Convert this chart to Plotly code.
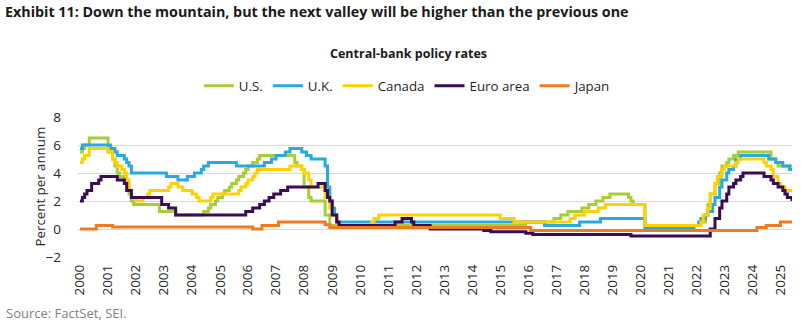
import plotly.graph_objects as go

END_DATE = "2025-06-01"

us_dates = ["2000-01","2000-02","2000-03","2000-05","2001-01","2001-03","2001-04","2001-05","2001-06","2001-08","2001-09","2001-10","2001-11","2001-12","2002-11","2003-06","2004-06","2004-08","2004-09","2004-11","2004-12","2005-02","2005-03","2005-05","2005-06","2005-08","2005-09","2005-11","2005-12","2006-01","2006-03","2006-05","2006-06","2007-09","2007-10","2007-12","2008-01","2008-03","2008-04","2008-10","2008-12","2015-12","2016-12","2017-03","2017-06","2017-12","2018-03","2018-06","2018-09","2018-12","2019-08","2019-09","2019-10","2020-03","2022-03","2022-05","2022-06","2022-07","2022-09","2022-11","2022-12","2023-02","2023-03","2023-05","2023-07","2024-09","2024-11","2024-12"]
us_values = [5.5,5.75,6.0,6.5,5.5,5.0,4.5,4.0,3.75,3.5,3.0,2.5,2.0,1.75,1.25,1.0,1.25,1.5,1.75,2.0,2.25,2.5,2.75,3.0,3.25,3.5,3.75,4.0,4.25,4.5,4.75,5.0,5.25,4.75,4.5,4.25,3.0,2.25,2.0,1.0,0.25,0.5,0.75,1.0,1.25,1.5,1.75,2.0,2.25,2.5,2.25,2.0,1.75,0.25,0.5,1.0,1.75,2.5,3.25,4.0,4.5,4.75,5.0,5.25,5.5,5.0,4.75,4.5]

uk_dates = ["2000-01","2000-02","2001-02","2001-04","2001-05","2001-08","2001-09","2001-10","2001-11","2003-02","2003-07","2003-11","2004-02","2004-05","2004-06","2004-08","2005-08","2006-08","2006-11","2007-01","2007-05","2007-07","2007-12","2008-02","2008-04","2008-10","2008-11","2008-12","2009-01","2009-02","2009-03","2016-08","2017-11","2018-08","2020-03","2021-12","2022-02","2022-03","2022-05","2022-06","2022-08","2022-09","2022-11","2022-12","2023-02","2023-03","2023-05","2023-06","2023-08","2024-08","2024-11","2025-02","2025-05"]
uk_values = [5.75,6.0,5.75,5.5,5.25,5.0,4.75,4.5,4.0,3.75,3.5,3.75,4.0,4.25,4.5,4.75,4.5,4.75,5.0,5.25,5.5,5.75,5.5,5.25,5.0,4.5,3.0,2.0,1.5,1.0,0.5,0.25,0.5,0.75,0.1,0.25,0.5,0.75,1.0,1.25,1.75,2.25,3.0,3.5,4.0,4.25,4.5,5.0,5.25,5.0,4.75,4.5,4.25]

ca_dates = ["2000-01","2000-02","2000-03","2000-05","2001-01","2001-03","2001-04","2001-05","2001-07","2001-08","2001-09","2001-10","2001-11","2002-01","2002-04","2002-06","2002-07","2003-03","2003-04","2003-07","2003-09","2004-01","2004-03","2004-04","2004-09","2004-10","2005-09","2005-10","2005-12","2006-01","2006-03","2006-04","2006-05","2007-07","2007-12","2008-01","2008-03","2008-04","2008-10","2008-12","2009-01","2009-03","2009-04","2010-06","2010-07","2010-09","2015-01","2015-07","2017-07","2017-09","2018-01","2018-07","2018-10","2020-03","2022-03","2022-04","2022-06","2022-07","2022-09","2022-10","2022-12","2023-01","2023-06","2023-07","2024-06","2024-07","2024-09","2024-10","2024-12","2025-01","2025-03"]
ca_values = [4.75,5.0,5.25,5.75,5.5,5.0,4.75,4.5,4.25,4.0,3.5,2.75,2.25,2.0,2.25,2.5,2.75,3.0,3.25,3.0,2.75,2.5,2.25,2.0,2.25,2.5,2.75,3.0,3.25,3.5,3.75,4.0,4.25,4.5,4.25,4.0,3.5,3.0,2.25,1.5,1.0,0.5,0.25,0.5,0.75,1.0,0.75,0.5,0.75,1.0,1.25,1.5,1.75,0.25,0.5,1.0,1.5,2.5,3.25,3.75,4.25,4.5,4.75,5.0,4.75,4.5,4.25,3.75,3.25,3.0,2.75]

ea_dates = ["2000-01","2000-02","2000-03","2000-04","2000-06","2000-09","2000-10","2001-05","2001-08","2001-09","2001-11","2002-12","2003-03","2003-06","2005-12","2006-03","2006-06","2006-08","2006-10","2006-12","2007-03","2007-06","2008-07","2008-10","2008-11","2008-12","2009-01","2009-03","2009-04","2011-04","2011-07","2011-11","2011-12","2012-07","2014-06","2014-09","2015-12","2016-03","2019-09","2022-07","2022-09","2022-11","2022-12","2023-02","2023-03","2023-05","2023-06","2023-08","2023-09","2024-06","2024-09","2024-10","2024-12","2025-02","2025-03","2025-04","2025-06"]
ea_values = [2.0,2.25,2.5,2.75,3.25,3.5,3.75,3.5,3.25,2.75,2.25,1.75,1.5,1.0,1.25,1.5,1.75,2.0,2.25,2.5,2.75,3.0,3.25,2.75,2.25,2.0,1.0,0.5,0.25,0.5,0.75,0.5,0.25,0.0,-0.1,-0.2,-0.3,-0.4,-0.5,0.0,0.75,1.5,2.0,2.5,3.0,3.25,3.5,3.75,4.0,3.75,3.5,3.25,3.0,2.75,2.5,2.25,2.0]

jp_dates = ["2000-01","2000-08","2001-03","2006-03","2006-07","2007-02","2008-10","2008-12","2016-02","2024-03","2024-07","2025-01"]
jp_values = [0.0,0.25,0.15,0.0,0.25,0.5,0.3,0.1,-0.1,0.1,0.25,0.5]

series_names = ["U.S.", "U.K.", "Canada", "Euro area", "Japan"]
series_colors = ["#A6CE39", "#29A9E0", "#FFD100", "#3A0B57", "#F07A22"]
series_data = [(us_dates, us_values), (uk_dates, uk_values), (ca_dates, ca_values),
               (ea_dates, ea_values), (jp_dates, jp_values)]

year_ticks = [f"{y}-01-01" for y in range(2000, 2026)]
year_labels = [str(y) for y in range(2000, 2026)]

FONT = "Open Sans"
TXT = "#262626"
fig = go.Figure()
for name, color, (d, v) in zip(series_names, series_colors, series_data):
    dd = list(d) + ([END_DATE] if d[-1] != END_DATE[:7] else [])
    vv = list(v) + ([v[-1]] if d[-1] != END_DATE[:7] else [])
    fig.add_trace(go.Scatter(x=dd, y=vv, mode="lines", name=name,
                             line=dict(color=color, width=3, shape="hv")))

fig.update_layout(
    width=801, height=324,
    margin=dict(l=78, r=9, t=117, b=67),
    paper_bgcolor="white", plot_bgcolor="white",
    font=dict(family=FONT, size=13, color=TXT),
    title=dict(text="<b>Exhibit 11: Down the mountain, but the next valley will be higher than the previous one</b>",
               x=5/801, xanchor="left", y=1 - 12/324, yanchor="middle",
               font=dict(family=FONT, size=14.3, color="#1a1a1a")),
    legend=dict(orientation="h", x=0.462, xanchor="center", y=1 + (117-86)/140, yanchor="middle",
                font=dict(family=FONT, size=13.3, color=TXT), itemwidth=30,
                traceorder="normal", bgcolor="rgba(0,0,0,0)"),
    showlegend=True,
    annotations=[
        dict(text="<b>Central-bank policy rates</b>", xref="paper", yref="paper",
             x=0.463, y=1 + (117-53)/140, xanchor="center", yanchor="middle", showarrow=False,
             font=dict(family=FONT, size=12.5, color="#1a1a1a")),
        dict(text="Percent per annum", xref="paper", yref="paper", textangle=-90,
             x=-(78-39.5)/714, y=(257-187)/140, xanchor="center", yanchor="middle", showarrow=False,
             font=dict(family=FONT, size=13.3, color=TXT)),
        dict(text="Source: FactSet, SEI.", xref="paper", yref="paper",
             x=-74/714, y=-(313-257)/140, xanchor="left", yanchor="middle", showarrow=False,
             font=dict(family=FONT, size=13, color="#808080")),
    ],
)
fig.update_xaxes(type="date", range=["1999-12-06", END_DATE], tickvals=year_ticks, ticktext=year_labels,
                 tickangle=-90, showgrid=False, showline=False, zeroline=False, ticks="",
                 ticklabelstandoff=4,
                 tickfont=dict(family=FONT, size=13.5, color=TXT))
fig.update_yaxes(range=[-2, 8], dtick=2, showgrid=True, gridcolor="#D9D9D9", gridwidth=1,
                 zeroline=False, showline=False, ticks="", ticklabelstandoff=16,
                 tickfont=dict(family=FONT, size=13.5, color=TXT))

fig.write_html("out.html")
